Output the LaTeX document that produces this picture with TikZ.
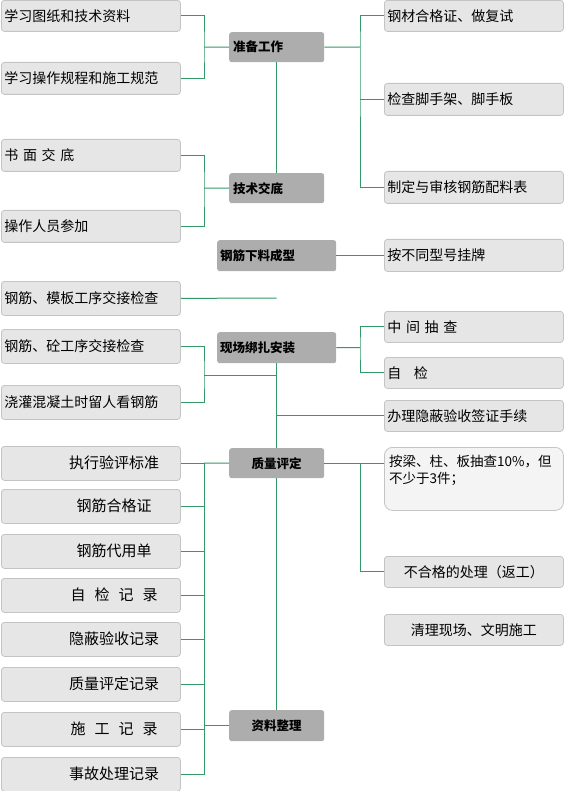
\documentclass[tikz,border=0pt]{standalone}
\usepackage{fontspec}
\setmainfont{Noto Sans CJK SC}
\XeTeXlinebreaklocale "zh"
\definecolor{gline}{HTML}{339966}
\definecolor{boxc}{HTML}{E6E6E6}
\definecolor{bordc}{HTML}{C4C4C4}
\definecolor{cfill}{HTML}{ADADAD}
\definecolor{lightc}{HTML}{F4F4F4}
\newcommand\gp{\hspace{9pt}}
\begin{document}
\begin{tikzpicture}[x=1pt,y=-1pt,
  lbox/.style={draw=bordc, fill=boxc, rounded corners=3pt, line width=0.8pt,
    anchor=north west, inner xsep=3pt, inner ysep=0pt, text width=173pt, align=left,
    font=\fontsize{14}{16}\selectfont},
  rbox/.style={lbox},
  cbox/.style={fill=cfill, rounded corners=2.5pt, anchor=north west, inner ysep=0pt,
    font=\fontsize{12.5}{14}\selectfont\bfseries},
  ltext/.style={inner sep=0pt, font=\fontsize{15}{17}\selectfont},
  conn/.style={draw=gline, line width=1pt}]
\useasboundingbox (0,0) rectangle (564,791);

% ---- left boxes (upper) ----
\node[lbox, minimum height=31] (L1) at (1,0) {学习图纸和技术资料};
\node[lbox, minimum height=32] (L2) at (1,62) {学习操作规程和施工规范};
\node[lbox, minimum height=32] (L3) at (1,139) {书 面 交 底};
\node[lbox, minimum height=32] (L4) at (1,210) {操作人员参加};
\node[lbox, minimum height=34] (L5) at (1,281) {钢筋、模板工序交接检查};
\node[lbox, minimum height=34] (L6) at (1,329) {钢筋、砼工序交接检查};
\node[lbox, minimum height=34] (L7) at (1,385) {浇灌混凝土时留人看钢筋};

% ---- left boxes (lower) ----
\node[lbox, minimum height=34] (L8) at (1,446) {};
\node[lbox, minimum height=34] (L9) at (1,489) {};
\node[lbox, minimum height=34] (L10) at (1,534) {};
\node[lbox, minimum height=34] (L11) at (1,578) {};
\node[lbox, minimum height=34] (L12) at (1,622) {};
\node[lbox, minimum height=34] (L13) at (1,667) {};
\node[lbox, minimum height=34] (L14) at (1,712) {};
\node[lbox, minimum height=34] (L15) at (1,757) {};
\node[ltext] (t8) at (114,463) {执行验评标准};
\node[ltext] (t9) at (114,506) {钢筋合格证};
\node[ltext] (t10) at (114,551) {钢筋代用单};
\node[ltext] (t11) at (114,595) {自\gp 检\gp 记\gp 录};
\node[ltext] (t12) at (114,639) {隐蔽验收记录};
\node[ltext] (t13) at (114,684) {质量评定记录};
\node[ltext] (t14) at (114,729) {施\gp 工\gp 记\gp 录};
\node[ltext] (t15) at (114,774) {事故处理记录};

% ---- right boxes ----
\node[rbox, minimum height=31] (R1) at (384,0) {钢材合格证、做复试};
\node[rbox, minimum height=32] (R2) at (384,83) {检查脚手架、脚手板};
\node[rbox, minimum height=32] (R3) at (384,171) {制定与审核钢筋配料表};
\node[rbox, minimum height=32] (R4) at (384,239) {按不同型号挂牌};
\node[rbox, minimum height=31] (R5) at (384,311) {中 间 抽 查};
\node[rbox, minimum height=31] (R6) at (384,357) {自\hspace{0.9em}检};
\node[rbox, minimum height=31] (R7) at (384,400) {办理隐蔽验收签证手续};
\node[rbox, fill=lightc, rounded corners=8pt, minimum height=63] (R8) at (384,447) {};
\node[inner sep=0pt, anchor=north west, align=left, font=\fontsize{13.5}{17}\selectfont]
  (t8r) at (389,455) {按梁、柱、板抽查10\%，但\\不少于3件；};
\node[rbox, align=center, minimum height=31] (R9) at (384,556) {不合格的处理（返工）};
\node[rbox, align=center, minimum height=31] (R10) at (384,614) {清理现场、文明施工};

% ---- centre boxes ----
\node[cbox, inner xsep=4pt, text width=87pt, align=left, minimum height=30] (A) at (229,32) {准备工作};
\node[cbox, inner xsep=4pt, text width=87pt, align=left, minimum height=30] (B) at (229,173) {技术交底};
\node[cbox, inner xsep=3pt, text width=113pt, align=left, minimum height=31] (C) at (217,240) {钢筋下料成型};
\node[cbox, inner xsep=3pt, text width=113pt, align=left, minimum height=31] (D) at (217,332) {现场绑扎安装};
\node[cbox, inner xsep=4pt, text width=87pt, align=center, minimum height=30] (E) at (229,448) {质量评定};
\node[cbox, inner xsep=4pt, text width=87pt, align=center, minimum height=31] (F) at (229,710) {资料整理};

% ---- junctions ----
\coordinate (jA) at (204,47);
\coordinate (jB) at (360,47);
\coordinate (jC) at (204,188);
\coordinate (f1) at (276.5,298);
\coordinate (jD) at (360,347.5);
\coordinate (jE) at (204,375);
\coordinate (jF) at (360,464);
\coordinate (jG) at (204,463);

% ---- connectors ----
\draw[conn] (L1.east) -| (jA) |- (L2.east);
\draw[conn] (jA) -- (A.west);
\draw[conn] (A.east) -- (jB);
\draw[conn] (R1.west) -| (jB) |- (R3.west);
\draw[conn] (R2.west) -- (R2.west -| jB);
\draw[conn] (A.south) -- (B.north);
\draw[conn] (L3.east) -| (jC) |- (L4.east);
\draw[conn] (jC) -- (B.west);
\draw[conn] (C.east) -- (C.east -| R4.west);
\draw[conn] (L5.east) -- (f1);
\draw[conn] (D.east) -- (jD);
\draw[conn] (R5.west) -| (jD) |- (R6.west);
\draw[conn] (L6.east) -| (jE) |- (L7.east);
\draw[conn] (jE) -- (jE -| D.south);
\draw[conn] (D.south) -- (E.north);
\draw[conn] (R7.west) -- (R7.west -| D.south);
\draw[conn] (E.east) -- (E.east -| R8.west);
\draw[conn] (jF) |- (R9.west);
\draw[conn] (E.west) -- (jG);
\draw[conn] (L8.east) -- (L8.east -| jG);
\draw[conn] (jG) |- (L15.east);
\draw[conn] (L9.east) -- (L9.east -| jG);
\draw[conn] (L10.east) -- (L10.east -| jG);
\draw[conn] (L11.east) -- (L11.east -| jG);
\draw[conn] (L12.east) -- (L12.east -| jG);
\draw[conn] (L13.east) -- (L13.east -| jG);
\draw[conn] (L14.east) -- (L14.east -| jG);
\draw[conn] (F.west) -- (F.west -| jG);
\draw[conn] (E.south) -- (F.north);
\end{tikzpicture}
\end{document}
